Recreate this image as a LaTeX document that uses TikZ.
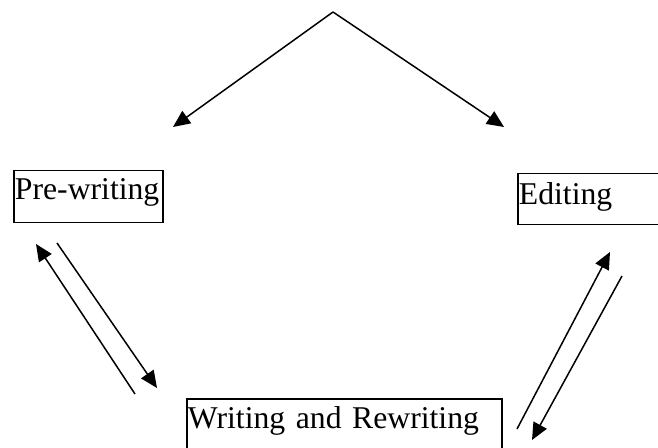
\documentclass[tikz,border=0pt]{standalone}
\usepackage{fontspec}
\setmainfont{Liberation Serif}
\usetikzlibrary{arrows.meta,positioning,calc}

\begin{document}
\begin{tikzpicture}[x=0.5pt, y=-0.5pt,
    stage/.style={draw, line width=0.75pt, anchor=north west, align=left,
        inner xsep=0.6pt, inner ysep=1pt, font=\fontsize{15.85}{19}\selectfont},
    flow/.style={-{Triangle[length=8.5pt, width=7.5pt]}, line width=0.75pt},
]
    \clip (0,0) rectangle (658,448);

    % the three stages
    \node[stage, text width=73.3pt, text height=13.5pt, text depth=10.5pt] (pre) at (13,170) {\mbox{Pre-writing}};
    \node[stage, text width=100pt, text height=14.5pt, text depth=9pt] (edit) at (517,173) {Editing};
    \node[stage, text width=156.3pt, text height=14pt, text depth=30pt] (write) at (186,398) {\mbox{Writing and Rewriting}};

    % top split
    \coordinate (apex) at (333,12);
    \coordinate (apex-l) at (173,127);
    \coordinate (apex-r) at (504,127);
    \draw[flow] (apex) -- (apex-l);
    \draw[flow] (apex) -- (apex-r);

    % pre-writing <-> writing
    \coordinate (pw-a) at (135,394);
    \coordinate (pw-b) at (36,244);
    \coordinate (pw-c) at (57,243);
    \coordinate (pw-d) at (157,388);
    \draw[flow] (pw-a) -- (pw-b);
    \draw[flow] (pw-c) -- (pw-d);

    % writing <-> editing
    \coordinate (we-a) at (517,429);
    \coordinate (we-b) at (610,252);
    \coordinate (we-c) at (622,276);
    \coordinate (we-d) at (532,440);
    \draw[flow] (we-a) -- (we-b);
    \draw[flow] (we-c) -- (we-d);
\end{tikzpicture}
\end{document}
